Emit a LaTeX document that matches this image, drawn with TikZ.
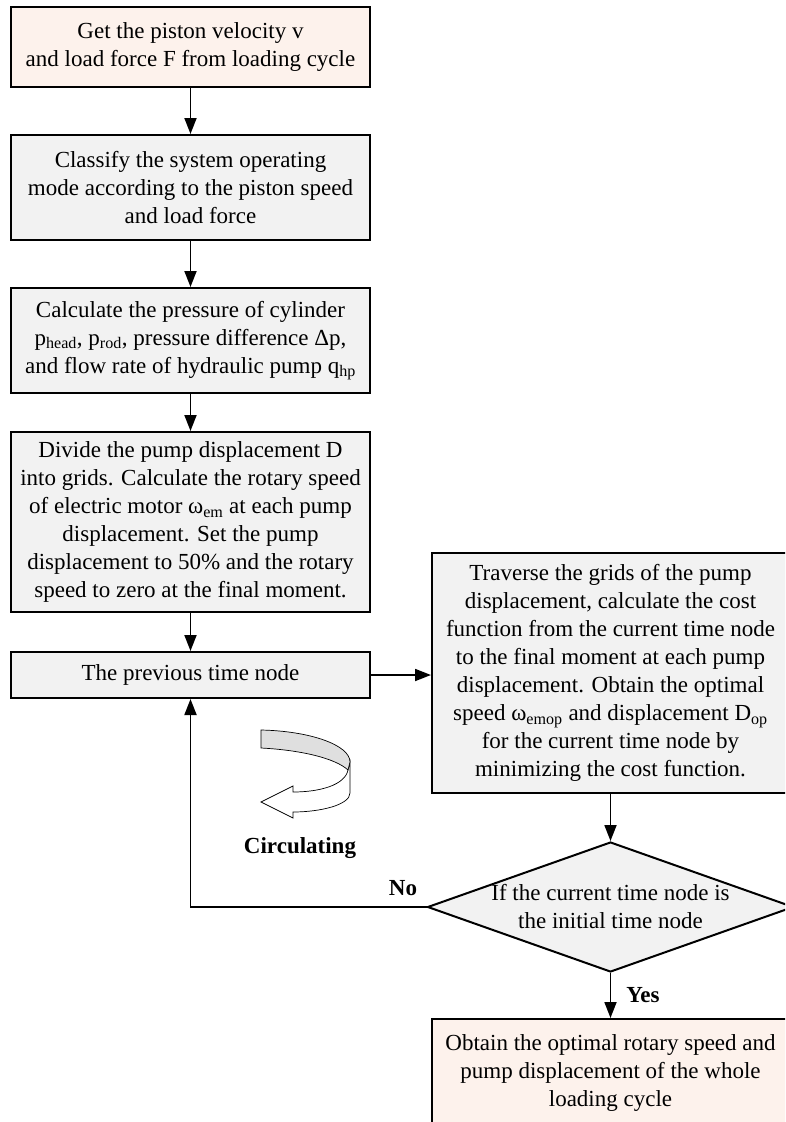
\documentclass[tikz,border=0pt]{standalone}
\usepackage{fontspec}
\setmainfont{Liberation Serif}
\usetikzlibrary{arrows.meta,shapes.geometric}
\definecolor{boxgray}{HTML}{F2F2F2}
\definecolor{peach}{HTML}{FDF2EC}
\begin{document}
\begin{tikzpicture}[x=1pt,y=-1pt,
  txt/.style={font=\fontsize{23}{28}\selectfont},
  proc/.style={draw, line width=2pt, fill=boxgray, align=center, inner sep=0pt, txt},
  term/.style={proc, fill=peach},
  arr/.style={line width=1.8pt, -{Triangle[length=16pt,width=12pt]}},
  lbl/.style={font=\fontsize{23}{28}\selectfont\bfseries}]
\useasboundingbox (0,0) rectangle (785,1122);
\clip (0,0) rectangle (785,1122);
\node[term, minimum width=359pt, minimum height=80pt] (b1) at (190.5,47)
  {Get the piston velocity v\\and load force F from loading cycle};
\node[proc, minimum width=359pt, minimum height=105pt] (b2) at (190.5,187.5)
  {Classify the system operating\\mode according to the piston speed\\and load force};
\node[proc, minimum width=359pt, minimum height=105pt] (b3) at (190.5,340.5)
  {Calculate the pressure of cylinder\\p\textsubscript{head}, p\textsubscript{rod}, pressure difference Δp,\\and flow rate of hydraulic pump q\textsubscript{hp}};
\node[proc, minimum width=359pt, minimum height=180pt] (b4) at (190.5,522)
  {Divide the pump displacement D\\into grids. Calculate the rotary speed\\of electric motor ω\textsubscript{em} at each pump\\displacement. Set the pump\\displacement to 50\% and the rotary\\speed to zero at the final moment.};
\node[proc, minimum width=359pt, minimum height=46pt] (b5) at (190.5,675)
  {The previous time node};
\node[proc, minimum width=357pt, minimum height=240pt] (rb) at (610.5,673)
  {Traverse the grids of the pump\\displacement, calculate the cost\\function from the current time node\\to the final moment at each pump\\displacement. Obtain the optimal\\speed ω\textsubscript{emop} and displacement D\textsubscript{op}\\for the current time node by\\minimizing the cost function.};
\node[diamond, draw, line width=2pt, fill=boxgray, minimum width=366pt, minimum height=130pt, inner sep=0pt] (d) at (610.5,907) {};
\node[txt, align=center] (dt) at (610.5,907) {If the current time node is\\the initial time node};
\node[term, minimum width=357pt, minimum height=108pt] (b6) at (610.5,1073)
  {Obtain the optimal rotary speed and\\pump displacement of the whole\\loading cycle};
\draw[arr] (b1) -- (b2);
\draw[arr] (b2) -- (b3);
\draw[arr] (b3) -- (b4);
\draw[arr] (b4) -- (b5);
\draw[arr] (b5.east) -- (b5.east -| rb.west);
\draw[arr] (rb) -- (d.north);
\draw[arr] (d.south) -- (b6);
\draw[arr] (d.west) -| (b5.south);
\node[lbl] (no) at (403,888) {No};
\node[lbl] (yes) at (643,995) {Yes};
\node[lbl] (circ) at (300,848) {Circulating};
% circulating ribbon arrow
\draw[line width=0.7pt, fill=white] (350,762) -- (350,793) .. controls (350,805) and (320,812) .. (293,812) -- (293,818) -- (261,802) -- (293,786) -- (293,792) .. controls (320,792) and (345,785) .. (348,770) -- cycle;
\draw[line width=0.7pt, fill=gray!25] (261,730) .. controls (310,731) and (350,745) .. (350,762) -- (348,770) .. controls (335,758) and (300,750) .. (261,748) -- cycle;
\end{tikzpicture}
\end{document}
